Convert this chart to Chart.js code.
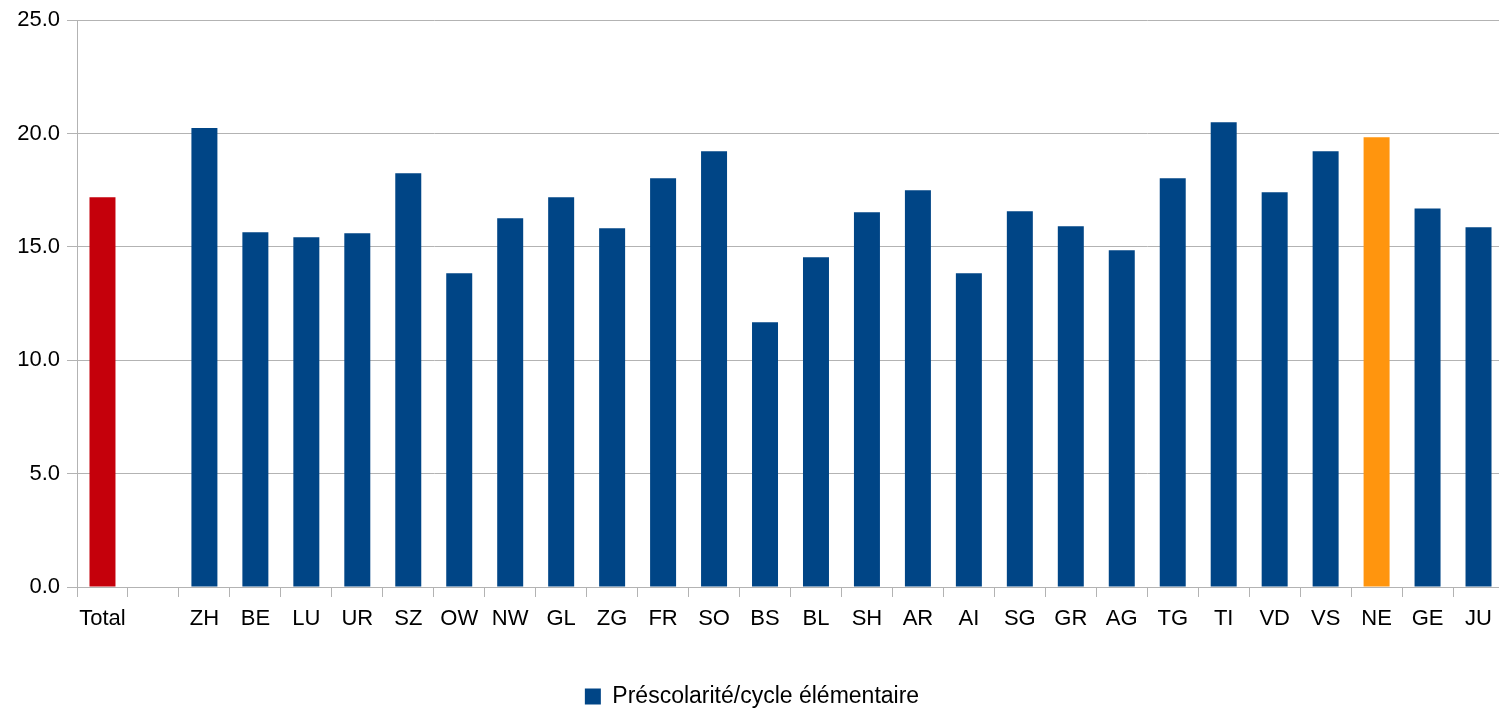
<!DOCTYPE html>
<html>
<head>
<meta charset="utf-8">
<script src="https://cdn.jsdelivr.net/npm/chart.js@4/dist/chart.umd.min.js"></script>
<style>
  html, body { margin: 0; padding: 0; background: #fff; overflow: hidden; }
  #wrap { width: 1504px; height: 714px; }
</style>
</head>
<body>
<div id="wrap"><canvas id="chart"></canvas></div>
<script>
// Catégories (Total, vide, cantons)
const categories = ['Total', '', 'ZH', 'BE', 'LU', 'UR', 'SZ', 'OW', 'NW', 'GL', 'ZG', 'FR', 'SO', 'BS', 'BL',
    'SH', 'AR', 'AI', 'SG', 'GR', 'AG', 'TG', 'TI', 'VD', 'VS', 'NE', 'GE', 'JU'];
const values = [17.19, null, 20.25, 15.65, 15.43, 15.6, 18.25, 13.84, 16.26, 17.19, 15.82, 18.03, 19.22, 11.68, 14.54,
    16.53, 17.5, 13.84, 16.57, 15.91, 14.85, 18.03, 20.5, 17.41, 19.22, 19.84, 16.7, 15.87];
const yTicks = [0, 5, 10, 15, 20, 25];
const seriesLabel = 'Préscolarité/cycle élémentaire';

const BLUE = '#004586';
const RED = '#c5000b';
const ORANGE = '#ff950e';
const GRID = '#b3b3b3';

const barColors = categories.map(c => c === 'Total' ? RED : (c === 'NE' ? ORANGE : BLUE));

const font = { family: '"Liberation Sans", Arial, sans-serif', size: 22 };

new Chart(document.getElementById('chart'), {
    type: 'bar',
    data: {
        labels: categories,
        datasets: [{
            label: seriesLabel,
            data: values,
            backgroundColor: barColors,
            borderWidth: 0,
            barPercentage: 0.51,
            categoryPercentage: 1
        }]
    },
    options: {
        responsive: true,
        maintainAspectRatio: false,
        animation: false,
        layout: { padding: { top: 18, left: 0, right: 0, bottom: -4 } },
        plugins: {
            tooltip: { enabled: false },
            legend: {
                position: 'bottom',
                labels: {
                    color: '#000',
                    font: { family: font.family, size: 23 },
                    boxWidth: 16,
                    boxHeight: 16,
                    padding: 0,
                    generateLabels: () => [{
                        text: seriesLabel,
                        fillStyle: BLUE,
                        strokeStyle: BLUE,
                        lineWidth: 0,
                        hidden: false,
                        datasetIndex: 0
                    }]
                }
            }
        },
        scales: {
            x: {
                grid: {
                    offset: true,
                    drawOnChartArea: false,
                    drawTicks: true,
                    tickLength: 10,
                    color: GRID
                },
                border: { color: GRID },
                ticks: {
                    color: '#000',
                    font: font,
                    padding: 9,
                    maxRotation: 0,
                    autoSkip: false
                },
                afterFit: s => { s.height = 98; }
            },
            y: {
                min: 0,
                max: 25,
                afterBuildTicks: s => { s.ticks = yTicks.map(v => ({ value: v })); },
                grid: { color: GRID, tickLength: 10 },
                border: { color: GRID },
                ticks: {
                    color: '#000',
                    font: font,
                    padding: 7,
                    callback: v => v.toFixed(1)
                },
                afterFit: s => { s.width = 77; }
            }
        }
    }
});
</script>
</body>
</html>
